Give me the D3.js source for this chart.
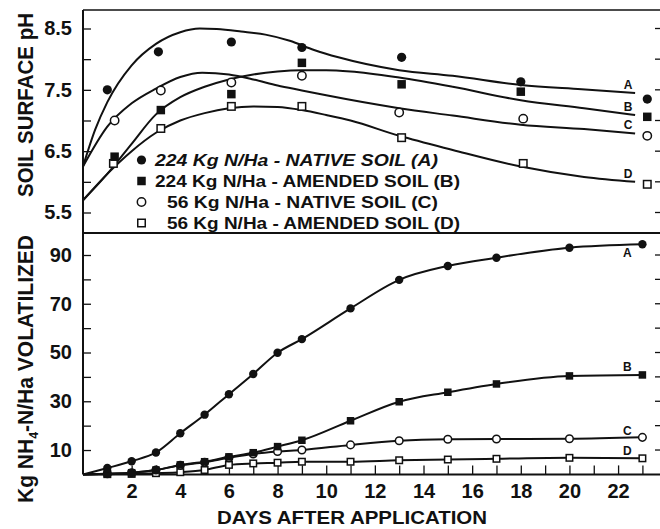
<!DOCTYPE html>
<html>
<head>
<meta charset="utf-8">
<script src="https://cdn.jsdelivr.net/npm/d3@7"></script>
<style>
  body { margin: 0; background: #fff; }
  svg { display: block; font-family: "Liberation Sans", Arial, sans-serif; }
</style>
</head>
<body>
<svg id="chart" width="660" height="529"></svg>
<script>
// ---- top panel : soil surface pH (measured points) ----
const phDaysA = [1.0, 3.1, 6.1, 9.0, 13.1, 18.0, 23.2];
const phA = [7.5, 8.12, 8.28, 8.19, 8.03, 7.63, 7.35];
const phDaysB = [1.3, 3.2, 6.1, 9.0, 13.1, 18.0, 23.2];
const phB = [6.41, 7.17, 7.43, 7.94, 7.59, 7.47, 7.06];
const phDaysC = [1.3, 3.2, 6.1, 9.0, 13.0, 18.1, 23.2];
const phC = [7.0, 7.49, 7.62, 7.73, 7.13, 7.03, 6.75];
const phDaysD = [1.25, 3.2, 6.1, 9.0, 13.1, 18.1, 23.2];
const phD = [6.3, 6.87, 7.23, 7.23, 6.72, 6.3, 5.96];

// fitted curves
const fitDaysA = [0, 0.5, 1, 2, 3, 4, 4.8, 5.5, 6.5, 7.5, 8.5, 9.5, 10.5, 13, 15.2, 18, 20.5, 22.7];
const fitA = [6.25, 6.85, 7.3, 7.9, 8.25, 8.44, 8.5, 8.49, 8.45, 8.4, 8.3, 8.15, 8.03, 7.82, 7.73, 7.58, 7.51, 7.45];
const fitDaysB = [0, 1, 2, 3, 4, 5, 6, 7, 8, 9, 10, 11, 13, 15.2, 18, 20.6, 22.7];
const fitB = [5.7, 6.13, 6.62, 7.1, 7.38, 7.55, 7.67, 7.75, 7.8, 7.82, 7.82, 7.8, 7.7, 7.55, 7.33, 7.2, 7.09];
const fitDaysC = [0, 1, 2, 3, 4, 4.9, 6, 7, 8, 9, 10, 13, 15.2, 18, 20.6, 22.7];
const fitC = [6.25, 6.9, 7.28, 7.52, 7.71, 7.78, 7.75, 7.67, 7.57, 7.49, 7.41, 7.2, 7.08, 6.93, 6.86, 6.79];
const fitDaysD = [0, 1, 2, 3, 4, 5, 6, 7, 8, 9, 10, 11, 13, 15.2, 18, 20.6, 22.7];
const fitD = [5.7, 6.13, 6.5, 6.8, 7.0, 7.12, 7.2, 7.23, 7.22, 7.17, 7.09, 7.0, 6.75, 6.52, 6.25, 6.08, 6.0];

// ---- bottom panel : kg NH4-N/Ha volatilized ----
const volDays = [0, 1, 2, 3, 4, 5, 6, 7, 8, 9, 11, 13, 15, 17, 20, 23];
const volA = [0, 2.6, 5.4, 9.0, 16.9, 24.5, 32.9, 41.2, 49.9, 55.5, 68.1, 79.8, 85.5, 88.9, 93.0, 94.4];
const volB = [0, 0.3, 0.7, 1.8, 3.9, 5.2, 7.2, 8.9, 11.4, 14.0, 22.0, 29.8, 33.7, 37.1, 40.4, 40.8];
const volC = [0, 0.3, 0.7, 1.8, 3.7, 5.0, 6.8, 8.4, 9.4, 10.0, 12.1, 13.8, 14.4, 14.5, 14.6, 15.2];
const volD = [0, 0.1, 0.2, 0.5, 0.9, 1.8, 3.9, 4.5, 4.8, 5.2, 5.2, 5.8, 6.1, 6.4, 6.8, 6.6];

const seriesKeys = ["A", "B", "C", "D"];
const legendLabels = [
  "224 Kg N/Ha - NATIVE SOIL (A)",
  "224 Kg N/Ha - AMENDED SOIL (B)",
  "56 Kg N/Ha - NATIVE SOIL (C)",
  "56 Kg N/Ha - AMENDED SOIL (D)",
];
const phTicks = [5.5, 6, 6.5, 7, 7.5, 8, 8.5];
const volTicks = [10, 20, 30, 40, 50, 60, 70, 80, 90];
const dayTicks = d3.range(1, 24);

const svg = d3.select("#chart");
const ink = "#111";

const plotL = 83, plotR = 657, plotT = 10, plotMid = 233, plotB = 474.4;

const x = d3.scaleLinear().domain([0, 23.6]).range([plotL, plotR]);
const yPh = d3.scaleLinear().domain([5.5, 8.5]).range([212.5, 28.5]);
const yVol = d3.scaleLinear().domain([0, 90]).range([plotB, 255]);

// marker drawer
function marker(g, key, cx, cy, big) {
  const r = big ? 4.6 : 4.2;
  const s = big ? 8.5 : 7.5;
  if (key === "A" || key === "C") {
    g.append("circle")
      .attr("cx", cx).attr("cy", cy).attr("r", key === "A" ? r : r - 0.4)
      .attr("fill", key === "A" ? ink : "#fff")
      .attr("stroke", ink).attr("stroke-width", key === "A" ? 0 : 1.5);
  } else {
    const ss = key === "B" ? s : s - 1;
    g.append("rect")
      .attr("x", cx - ss / 2).attr("y", cy - ss / 2)
      .attr("width", ss).attr("height", ss)
      .attr("fill", key === "B" ? ink : "#fff")
      .attr("stroke", ink).attr("stroke-width", key === "B" ? 0 : 1.5);
  }
}

// frame
svg.append("line").attr("x1", plotL).attr("x2", 660).attr("y1", plotT).attr("y2", plotT)
  .attr("stroke", ink).attr("stroke-width", 1.5);
svg.append("line").attr("x1", plotL).attr("x2", 660).attr("y1", plotMid).attr("y2", plotMid)
  .attr("stroke", ink).attr("stroke-width", 2);
svg.append("line").attr("x1", plotL).attr("x2", 660).attr("y1", plotB).attr("y2", plotB)
  .attr("stroke", ink).attr("stroke-width", 2);
svg.append("line").attr("x1", plotL).attr("x2", plotL).attr("y1", plotT).attr("y2", plotB)
  .attr("stroke", ink).attr("stroke-width", 2);

// axes
function styleAxis(g, fs) {
  g.select(".domain").remove();
  g.selectAll("line").attr("stroke", ink).attr("stroke-width", 1.3);
  g.selectAll("text").attr("fill", ink).style("font-size", fs + "px").style("font-weight", "bold");
}

svg.append("g")
  .attr("transform", `translate(${plotL},0)`)
  .call(d3.axisLeft(yPh).tickValues(phTicks).tickSize(-8).tickPadding(11)
    .tickFormat((d) => (d * 2) % 2 === 1 ? d3.format(".1f")(d) : ""))
  .call((g) => styleAxis(g, 20));

svg.append("g")
  .attr("transform", `translate(${plotL},0)`)
  .call(d3.axisLeft(yVol).tickValues(volTicks).tickSize(-8).tickPadding(11)
    .tickFormat((d) => (d / 10) % 2 === 1 ? d : ""))
  .call((g) => styleAxis(g, 20));

svg.append("g")
  .attr("transform", `translate(0,${plotB})`)
  .call(d3.axisBottom(x).tickValues(dayTicks).tickSize(-9).tickPadding(9)
    .tickFormat((d) => d % 2 === 0 && d <= 22 ? d : ""))
  .call((g) => styleAxis(g, 20));

// right side tick dashes
phTicks.forEach((t) => {
  svg.append("line").attr("x1", 655).attr("x2", 660).attr("y1", yPh(t)).attr("y2", yPh(t))
    .attr("stroke", ink).attr("stroke-width", 1.3);
});
volTicks.forEach((t) => {
  svg.append("line").attr("x1", 655).attr("x2", 660).attr("y1", yVol(t)).attr("y2", yVol(t))
    .attr("stroke", ink).attr("stroke-width", 1.3);
});

// axis titles
svg.append("text")
  .attr("transform", "translate(33,105) rotate(-90)")
  .attr("text-anchor", "middle")
  .attr("textLength", 184).attr("lengthAdjust", "spacingAndGlyphs")
  .style("font-size", "22px").style("font-weight", "bold").attr("fill", ink)
  .text("SOIL SURFACE pH");

const yt = svg.append("text")
  .attr("transform", "translate(33,369) rotate(-90)")
  .attr("text-anchor", "middle")
  .attr("textLength", 268).attr("lengthAdjust", "spacingAndGlyphs")
  .style("font-size", "22px").style("font-weight", "bold").attr("fill", ink);
yt.append("tspan").text("Kg NH");
yt.append("tspan").attr("dy", 5).style("font-size", "13px").text("4");
yt.append("tspan").attr("dy", -5).text("-N/Ha VOLATILIZED");

svg.append("text")
  .attr("x", 352).attr("y", 524)
  .attr("text-anchor", "middle")
  .attr("textLength", 270).attr("lengthAdjust", "spacingAndGlyphs")
  .style("font-size", "19px").style("font-weight", "bold").attr("fill", ink)
  .text("DAYS AFTER APPLICATION");

// ---- top panel curves + points ----
const phPts = { A: [phDaysA, phA], B: [phDaysB, phB], C: [phDaysC, phC], D: [phDaysD, phD] };
const phFit = { A: [fitDaysA, fitA], B: [fitDaysB, fitB], C: [fitDaysC, fitC], D: [fitDaysD, fitD] };

const fitLine = d3.line()
  .x((d) => x(d[0])).y((d) => yPh(d[1]))
  .curve(d3.curveMonotoneX);

const gTop = svg.append("g");
seriesKeys.forEach((k) => {
  const pts = d3.zip(phFit[k][0], phFit[k][1]);
  gTop.append("path").attr("d", fitLine(pts))
    .attr("fill", "none").attr("stroke", ink).attr("stroke-width", 2);
  const last = pts[pts.length - 1];
  gTop.append("text")
    .attr("x", x(last[0]) - 7).attr("y", yPh(last[1]) - 4)
    .attr("text-anchor", "middle")
    .style("font-size", "12px").style("font-weight", "bold").attr("fill", ink)
    .text(k);
});
["D", "C", "B", "A"].forEach((k) => {
  phPts[k][0].forEach((d, i) => marker(gTop, k, x(d), yPh(phPts[k][1][i]), true));
});

// legend
const legY = [160, 181, 202, 223];
const legTextX = [155, 155, 167, 167];
const legLen = [283, 305, 271, 293];
seriesKeys.forEach((k, i) => {
  marker(svg, k, 141.5, legY[i], true);
  svg.append("text")
    .attr("x", legTextX[i]).attr("y", legY[i] + 6)
    .attr("textLength", legLen[i]).attr("lengthAdjust", "spacingAndGlyphs")
    .style("font-size", "17px").style("font-weight", "bold")
    .style("font-style", i === 0 ? "italic" : "normal")
    .attr("fill", ink)
    .text(legendLabels[i]);
});

// ---- bottom panel ----
const volSeries = { A: volA, B: volB, C: volC, D: volD };
const volLabelDy = { A: 13, B: -4, C: -2, D: -3 };

const volLine = d3.line()
  .x((d) => x(d[0])).y((d) => yVol(d[1]))
  .curve(d3.curveMonotoneX);

const gBot = svg.append("g");
["D", "C", "B", "A"].forEach((k) => {
  const pts = d3.zip(volDays, volSeries[k]);
  gBot.append("path").attr("d", volLine(pts))
    .attr("fill", "none").attr("stroke", ink).attr("stroke-width", 2);
});
["D", "C", "B", "A"].forEach((k) => {
  const pts = d3.zip(volDays, volSeries[k]);
  pts.slice(1).forEach((p) => marker(gBot, k, x(p[0]), yVol(p[1]), false));
  const last = pts[pts.length - 1];
  gBot.append("text")
    .attr("x", x(last[0]) - 15).attr("y", yVol(last[1]) + volLabelDy[k])
    .attr("text-anchor", "middle")
    .style("font-size", "12px").style("font-weight", "bold").attr("fill", ink)
    .text(k);
});
</script>
</body>
</html>
